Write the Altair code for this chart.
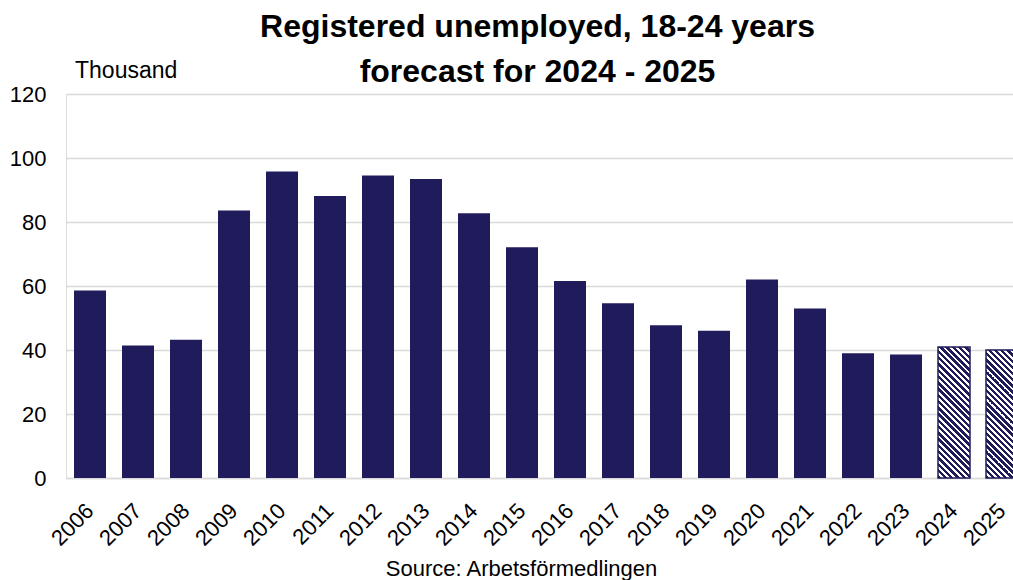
import altair as alt
import pandas as pd

years = ["2006", "2007", "2008", "2009", "2010", "2011", "2012", "2013", "2014", "2015",
         "2016", "2017", "2018", "2019", "2020", "2021", "2022", "2023", "2024", "2025"]
values = [58.6, 41.4, 43.2, 83.6, 95.8, 88.1, 94.5, 93.4, 82.7, 72.1,
          61.6, 54.6, 47.7, 46.0, 62.0, 53.0, 39.0, 38.6, 40.9, 40.0]
forecast_years = ["2024", "2025"]

title_lines = ["Registered unemployed, 18-24 years", "forecast for 2024 - 2025"]
unit_label = "Thousand"
source_label = "Source: Arbetsförmedlingen"

NAVY = "#201c5c"
GRID = "#d9d9d9"
FONT = "Liberation Sans"

df = pd.DataFrame({"year": years, "value": values})
df["forecast"] = df["year"].isin(forecast_years)

PLOT_W = 947
PLOT_H = 384
RANGE_W = 960
STEP = RANGE_W / len(years)
BAR_W = STEP * (1 - 1 / 3)
PX_PER_UNIT = PLOT_H / 120


def hatch(h, w=BAR_W, period=4.4, dark=0.55):
    r = h / w
    s = (1 + r) / (1 + r * r)
    span = (w + h) / 2 ** 0.5
    n = max(1, int(round(span / period)))
    stops = []
    for i in range(n):
        a = i / n
        b = (i + dark) / n
        c = (i + 1) / n
        stops += [
            alt.GradientStop(color=NAVY, offset=a),
            alt.GradientStop(color=NAVY, offset=b),
            alt.GradientStop(color="#ffffff", offset=b),
            alt.GradientStop(color="#ffffff", offset=c),
        ]
    return alt.LinearGradient(gradient="linear", stops=stops,
                              x1=0, y1=1, x2=s, y2=1 - s * r)


x_enc = alt.X("year:N", sort=years,
              scale=alt.Scale(range=[0, RANGE_W], paddingInner=1 / 3, paddingOuter=1 / 6),
              axis=alt.Axis(title=None, labelAngle=-45, labelAlign="right",
                            labelBaseline="middle", labelPadding=29, labelFontSize=22,
                            labelFont=FONT, labelColor="#000000", ticks=False,
                            domainColor=GRID, domainWidth=1.5, grid=False))
y_enc = alt.Y("value:Q",
              scale=alt.Scale(domain=[0, 120], nice=False),
              axis=alt.Axis(title=None, values=[0, 20, 40, 60, 80, 100, 120],
                            labelFontSize=22, labelFont=FONT, labelColor="#000000",
                            labelPadding=20, ticks=False, domain=False,
                            gridColor=GRID, gridWidth=1.5))

base = alt.Chart(df)

actual = base.transform_filter(alt.datum.forecast == False).mark_bar(
    color=NAVY).encode(x=x_enc, y=y_enc)

layers = [actual]
for fy in forecast_years:
    v = values[years.index(fy)]
    layers.append(
        base.transform_filter(alt.datum.year == fy).mark_bar(
            fill=hatch(v * PX_PER_UNIT), stroke=NAVY, strokeWidth=1.5
        ).encode(x=x_enc, y=y_enc)
    )

one = pd.DataFrame({"k": [0]})


def label(text, x, y, size, weight="normal", align="left"):
    return alt.Chart(one).mark_text(
        text=text, font=FONT, fontSize=size, fontWeight=weight, align=align,
        baseline="alphabetic", color="#000000"
    ).encode(x=alt.value(x), y=alt.value(y))


layers.append(label(title_lines[0], 471.5, -57, 32, "bold", "center"))
layers.append(label(title_lines[1], 471.5, -12, 32, "bold", "center"))
layers.append(label(unit_label, 9, -16, 23))
layers.append(label(source_label, 455.5, 482, 22, align="center"))

chart = alt.layer(*layers).properties(
    width=PLOT_W, height=PLOT_H,
    padding={"left": 66, "top": 94, "right": 0, "bottom": 102},
    autosize=alt.AutoSizeParams(type="none"),
).configure_view(stroke=None).configure(background="#ffffff")

chart.save("out.html", embed_options={"renderer": "svg", "actions": False})
